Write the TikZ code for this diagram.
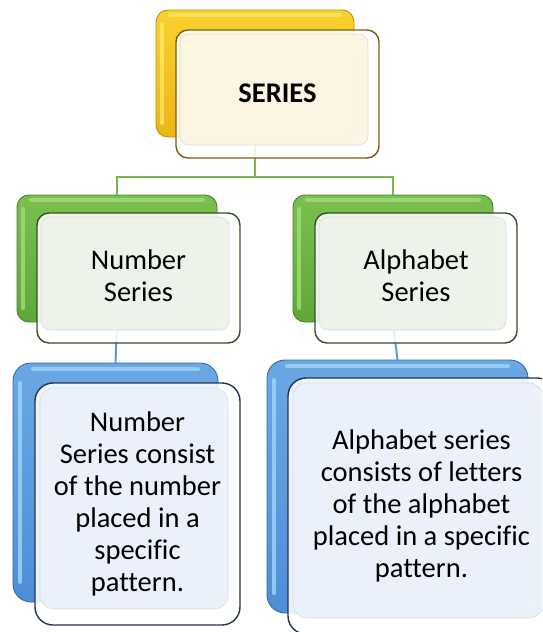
\documentclass[tikz,border=0pt]{standalone}
\usepackage{fontspec}
\setmainfont{Carlito}[Ligatures={NoCommon}]
\definecolor{ytop}{HTML}{F9D12E}
\definecolor{ybot}{HTML}{EDB516}
\definecolor{ybd}{HTML}{B8921C}
\definecolor{ylt}{HTML}{FFE66A}
\definecolor{yfd}{HTML}{7A5E10}
\definecolor{yin}{HTML}{FBF5E1}
\definecolor{gtop}{HTML}{79C04E}
\definecolor{gbot}{HTML}{5EA83A}
\definecolor{gbd}{HTML}{4A7F2F}
\definecolor{glt}{HTML}{A6DA7E}
\definecolor{gfd}{HTML}{34502A}
\definecolor{gin}{HTML}{EEF3EA}
\definecolor{btop}{HTML}{6AA8E4}
\definecolor{bbot}{HTML}{4E8ED6}
\definecolor{bbd}{HTML}{3569A8}
\definecolor{blt}{HTML}{9FD6F6}
\definecolor{bfd}{HTML}{25344A}
\definecolor{bin}{HTML}{EAF1FA}
\definecolor{gline}{HTML}{7AB648}
\definecolor{bline}{HTML}{5B9BD5}
\begin{document}
\begin{tikzpicture}[x=1pt,y=-1pt,
  bx/.style n args={2}{minimum width=#1, minimum height=#2, inner sep=0pt, outer sep=0pt, rounded corners=12pt, line width=0.9pt},
  yback/.style={draw=ybd, top color=ytop, bottom color=ybot},
  gback/.style={draw=gbd, top color=gtop, bottom color=gbot},
  bback/.style={draw=bbd, top color=btop, bottom color=bbot, rounded corners=18pt},
  front/.style={fill=white, fill opacity=0.88, draw opacity=1, line width=1.4pt},
  bfront/.style={front, rounded corners=18pt},
  inner/.style={fill=#1, fill opacity=0.9, draw=black!14, line width=0.6pt, rounded corners=9pt},
  hl/.style={draw=#1, line width=4pt, line cap=round, opacity=0.8},
  conn/.style={line width=2pt, draw=#1},
  txt/.style={align=center, inner sep=0pt, font=\fontsize{28.5}{32}\selectfont}
]
\clip (0,0) rectangle (542,632);
\useasboundingbox (0,0) rectangle (542,632);

% back boxes
\node[bx={198pt}{127pt}, yback] (sb) at (255,73.5) {};
\node[bx={200pt}{127pt}, gback] (nb) at (117,258.5) {};
\node[bx={200pt}{127pt}, gback] (ab) at (393,258.5) {};
\node[bx={205pt}{239pt}, bback] (ndb) at (115.5,482.5) {};
\node[bx={261pt}{253pt}, bback] (adb) at (397.5,486.5) {};

% bevel highlights on back boxes
\draw[hl=ylt] ([shift={(6,14)}]sb.north west) -- ([shift={(6,-14)}]sb.south west);
\draw[hl=ylt] ([shift={(14,5)}]sb.north west) -- ([shift={(-14,5)}]sb.north east);
\draw[hl=glt] ([shift={(6,14)}]nb.north west) -- ([shift={(6,-14)}]nb.south west);
\draw[hl=glt] ([shift={(14,5)}]nb.north west) -- ([shift={(-14,5)}]nb.north east);
\draw[hl=glt] ([shift={(6,14)}]ab.north west) -- ([shift={(6,-14)}]ab.south west);
\draw[hl=glt] ([shift={(14,5)}]ab.north west) -- ([shift={(-14,5)}]ab.north east);
\draw[hl=blt] ([shift={(7,20)}]ndb.north west) -- ([shift={(7,-20)}]ndb.south west);
\draw[hl=blt] ([shift={(20,6)}]ndb.north west) -- ([shift={(-20,6)}]ndb.north east);
\draw[hl=blt] ([shift={(7,20)}]adb.north west) -- ([shift={(7,-20)}]adb.south west);
\draw[hl=blt] ([shift={(20,6)}]adb.north west) -- ([shift={(-20,6)}]adb.north east);

% connectors
\coordinate (j) at ([yshift=-40pt]sb.south);
\draw[conn=gline] (sb.south) -- (j) -| (nb.north);
\draw[conn=gline] (j) -| (ab.north);
\draw[conn=bline] (nb.south) -- (ndb.north);
\draw[conn=bline] (ab.south) -- (adb.north);

% front boxes
\node[bx={203pt}{128pt}, front, draw=yfd] (s) at (277.5,94) {};
\fill[inner=yin] ([shift={(4,4)}]s.north west) rectangle ([shift={(-11,-13)}]s.south east);
\node[bx={203pt}{130pt}, front, draw=gfd] (n) at (138.5,278) {};
\fill[inner=gin] ([shift={(4,4)}]n.north west) rectangle ([shift={(-11,-13)}]n.south east);
\node[bx={202pt}{130pt}, front, draw=gfd] (a) at (416,278) {};
\fill[inner=gin] ([shift={(4,4)}]a.north west) rectangle ([shift={(-11,-13)}]a.south east);
\node[bx={205pt}{242pt}, bfront, draw=bfd] (nd) at (137.5,504) {};
\fill[inner=bin, rounded corners=14pt] ([shift={(5,5)}]nd.north west) rectangle ([shift={(-12,-16)}]nd.south east);
\node[bx={267pt}{256pt}, bfront, draw=bfd] (ad) at (421.5,506) {};
\fill[inner=bin, rounded corners=14pt] ([shift={(5,5)}]ad.north west) rectangle ([shift={(-12,-16)}]ad.south east);

% texts
\node[txt] (st) at ([yshift=1pt]s.center) {\textbf{SERIES}};
\node[txt] (nt) at ([yshift=2pt]n.center) {Number\\Series};
\node[txt] (at) at ([yshift=2pt]a.center) {Alphabet\\Series};
\node[txt] (ndt) at ([yshift=0pt]nd.center) {Number\\Series consist\\of the number\\placed in a\\specific\\pattern.};
\node[txt] (adt) at ([yshift=0pt]ad.center) {Alphabet series\\consists of letters\\of the alphabet\\placed in a specific\\pattern.};
\end{tikzpicture}
\end{document}
